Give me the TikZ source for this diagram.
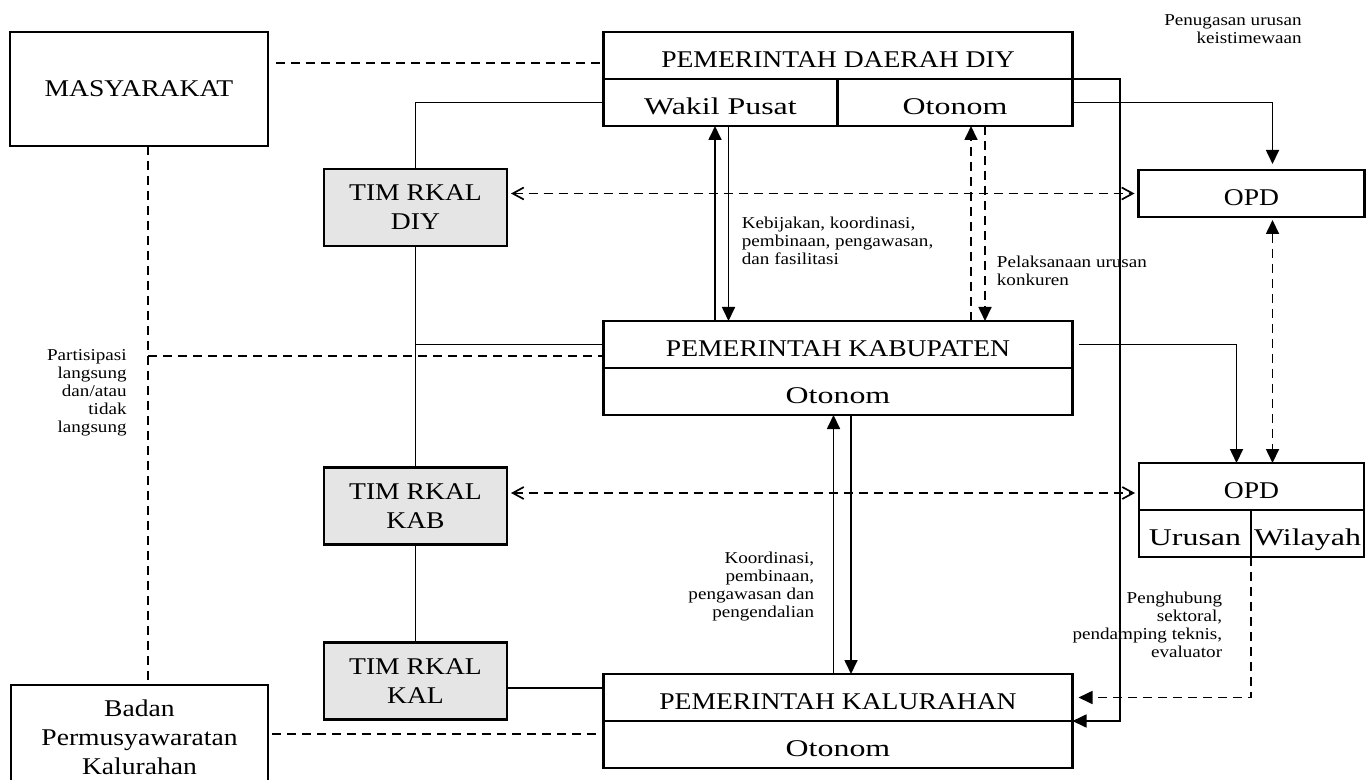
\documentclass[tikz,border=0pt]{standalone}
\usepackage{fontspec}
\setmainfont[FakeStretch=1.15]{Liberation Serif}
\newfontfamily\widefont[FakeStretch=1.33]{Liberation Serif}
\usetikzlibrary{arrows.meta,positioning,calc}
\tikzset{
  box/.style={draw, line width=1.1pt, outer sep=0pt, align=center, inner sep=2pt, font=\fontsize{12}{14.5}\selectfont},
  part/.style={box, minimum height=23.5pt, text height=12pt, text depth=0pt},
  wide/.style={part, font=\widefont\fontsize{12}{14.5}\selectfont},
  tim/.style={box, fill=black!10, minimum width=91.5pt, minimum height=38.5pt, text depth=-4.5pt},
  lbl/.style={inner sep=0pt, font=\fontsize{8.3}{9}\selectfont},
  link/.style={line width=0.85pt},
  >={Triangle[length=7pt,width=6.5pt]},
  arr/.style={link, ->},
  dashline/.style={link, dash pattern=on 4.5pt off 3pt},
  dasharr/.style={dashline, ->},
  twoway/.style={dashline, {Straight Barb[length=5.5pt,width=6pt]}-{Straight Barb[length=5.5pt,width=6pt]}, shorten <=2pt, shorten >=2pt}
}
\begin{document}
\begin{tikzpicture}[x=0.5pt, y=-0.5pt]
    \useasboundingbox (0,0) rectangle (1369,780);
    % Masyarakat and BPKal
    \node[box, minimum width=129pt, minimum height=57pt] (masy) at (139,89) {MASYARAKAT};
    \node[box, minimum width=128.5pt, minimum height=52.5pt, anchor=north] (badan) at (139.5,685) {Badan\\Permusyawaratan\\Kalurahan};
    % Pemerintah daerah DIY
    \node[part, minimum width=234.5pt, anchor=north west] (diy) at (603.5,32) {PEMERINTAH DAERAH DIY};
    \node[wide, minimum width=117pt, anchor=north west] (wakil) at (diy.south west) {Wakil Pusat};
    \node[wide, minimum width=117.5pt, anchor=north east] (otdiy) at (diy.south east) {Otonom};
    % Kabupaten and Kalurahan
    \node[part, minimum width=234.5pt, anchor=north west] (kab) at (603.5,321) {PEMERINTAH KABUPATEN};
    \node[wide, minimum width=234.5pt, anchor=north] (kabot) at (kab.south) {Otonom};
    \node[part, minimum width=234.5pt, anchor=north west] (kal) at (603.5,674) {PEMERINTAH KALURAHAN};
    \node[wide, minimum width=234.5pt, anchor=north] (kalot) at (kal.south) {Otonom};
    % OPD
    \node[part, minimum width=113pt, anchor=north west] (opd1) at (1138.5,170) {OPD};
    \node[part, minimum width=112.5pt, anchor=north west] (opd2) at (1139,463) {OPD};
    \node[wide, minimum width=56pt, inner sep=1pt, anchor=north west] (urusan) at (opd2.south west) {Urusan};
    \node[wide, minimum width=56.5pt, inner sep=1pt, anchor=north east] (wilayah) at (opd2.south east) {Wilayah};
    % Tim RKAL
    \node[tim] (timdiy) at (415.5,207.5) {TIM RKAL\\DIY};
    \node[tim] (timkab) at (415.5,506) {TIM RKAL\\KAB};
    \node[tim] (timkal) at (415.5,681) {TIM RKAL\\KAL};
    % Labels
    \node[lbl, anchor=east, align=right] (lpen) at (1302,29.5) {Penugasan urusan\\keistimewaan};
    \node[lbl, anchor=west, align=left] (lkeb) at (741.5,241) {Kebijakan, koordinasi,\\pembinaan, pengawasan,\\dan fasilitasi};
    \node[lbl, anchor=west, align=left] (lpel) at (996.5,270.5) {Pelaksanaan urusan\\konkuren};
    \node[lbl, anchor=east, align=right] (lpar) at (127,392.5) {Partisipasi\\langsung\\dan/atau\\tidak\\langsung};
    \node[lbl, anchor=east, align=right] (lkoo) at (814.5,587) {Koordinasi,\\pembinaan,\\pengawasan dan\\pengendalian};
    \node[lbl, anchor=east, align=right] (lpeng) at (1222.5,625) {Penghubung\\sektoral,\\pendamping teknis,\\evaluator};
    % Dashed participation lines
    \coordinate (ms) at ($(masy.south)+(9,0)$);
    \coordinate (m1) at ($(masy.north east)+(8,31)$);
    \coordinate (p1) at ($(ms |- kab.west)+(0,11.5)$);
    \coordinate (b1) at ($(badan.north east)+(4,49)$);
    \draw[dashline] (ms) -- (ms |- badan.north);
    \draw[dashline] (m1) -- (m1 -| diy.west);
    \draw[dashline] (p1) -- (p1 -| kab.west);
    \draw[dashline] (b1) -- (b1 -| kalot.west);
    % Tim RKAL links
    \coordinate (t1) at ($(timkal.east)+(0,7)$);
    \coordinate (t2) at ($(timkab.east)+(0,-13)$);
    \draw[link] (timdiy.north) |- (wakil.west);
    \draw[link] (timdiy.south) -- (timkab.north);
    \draw[link] (timdiy.south |- kab.west) -- (kab.west);
    \draw[link] (timkab.south) -- (timkal.north);
    \draw[link] (t1) -- (t1 -| kal.west);
    \draw[twoway] (timdiy.east |- opd1.west) -- (opd1.west);
    \draw[twoway] (t2) -- (t2 -| opd2.west);
    % Vertical arrows between levels
    \coordinate (w1) at ($(wakil.south)+(-5.5,0)$);
    \coordinate (w2) at ($(wakil.south)+(8,0)$);
    \coordinate (o1) at ($(otdiy.south)+(16,0)$);
    \coordinate (o2) at ($(otdiy.south)+(30,0)$);
    \coordinate (k1) at ($(kabot.south)+(-4.5,0)$);
    \coordinate (k2) at ($(kabot.south)+(13,0)$);
    \draw[arr] (w1 |- kab.north) -- (w1);
    \draw[arr] (w2) -- (w2 |- kab.north);
    \draw[dasharr] (o1 |- kab.north) -- (o1);
    \draw[dasharr] (o2) -- (o2 |- kab.north);
    \draw[arr] (k1 |- kal.north) -- (k1);
    \draw[arr] (k2) -- (k2 |- kal.north);
    % Right side: OPD and keistimewaan
    \coordinate (q1) at ($(opd1.north)+(21,0)$);
    \coordinate (q2) at ($(opd2.north)+(21,0)$);
    \coordinate (q3) at ($(opd2.north)+(-15,0)$);
    \draw[arr] (diy.south east) -- ++(47.5,0) |- (kal.south east);
    \draw[arr, shorten >=3pt] (otdiy.east) -| (q1);
    \draw[dashline, <->, shorten <=1.5pt] (q1 |- opd1.south) -- (q2);
    \draw[arr, shorten <=3pt] (kab.east) -| (q3);
    \draw[dasharr, shorten >=3pt] (urusan.south east) |- (kal.east);
\end{tikzpicture}
\end{document}
